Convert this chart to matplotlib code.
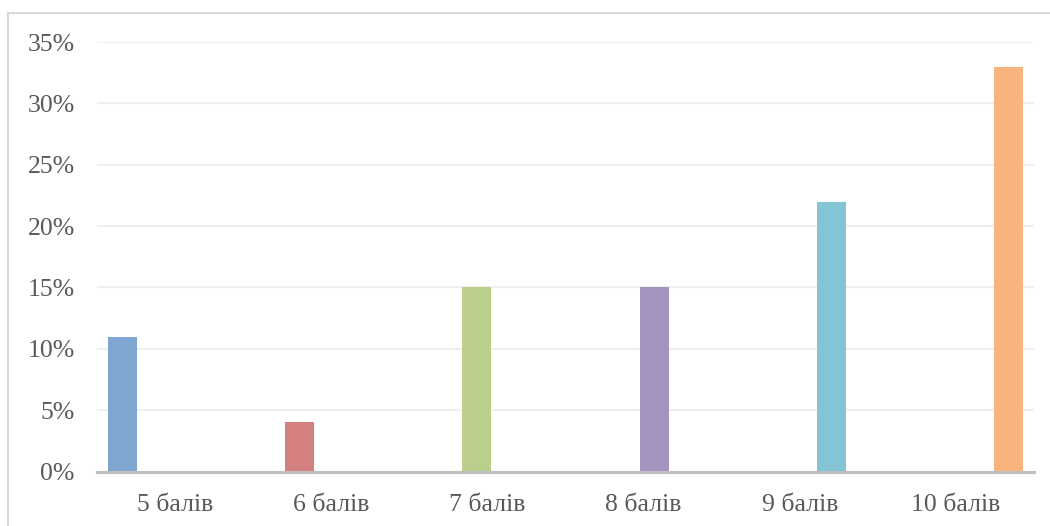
import matplotlib
matplotlib.use("Agg")
import matplotlib.pyplot as plt
import numpy as np
from matplotlib.patches import Rectangle

categories = ["5 балів", "6 балів", "7 балів", "8 балів", "9 балів", "10 балів"]
values = [11, 4, 15, 15, 22, 33]
colors = ["#7FA6D1", "#D48080", "#BBCF8C", "#A492BF", "#83C4D6", "#F8B47E"]
yticks = [0, 5, 10, 15, 20, 25, 30, 35]

W, H = 1050, 526
fig = plt.figure(figsize=(W / 100, H / 100), dpi=100)
plt.rcParams['font.family'] = ['Liberation Serif', 'DejaVu Serif']

# outer border
fig.patches.append(Rectangle((8 / W, -0.1), 1.2, 1 - 13 / H + 0.1, transform=fig.transFigure,
                             fill=False, edgecolor="#D9D9D9", linewidth=1.5))

left, right = 97 / W, 1034 / W
bottom, top = 1 - 471.5 / H, 1 - 42 / H
ax = fig.add_axes([left, bottom, right - left, top - bottom])

n = len(categories)
step = 0.1344
width = 0.1855
x = np.arange(n)
for i in range(n):
    pos = x[i] + (i - (n - 1) / 2) * step
    ax.bar(pos, values[i], width=width, color=colors[i], zorder=3)

ax.set_xlim(-0.5, n - 0.5)
ax.set_ylim(0, 35)
ax.set_yticks(yticks)
ax.set_yticklabels([f"{v}%" for v in yticks])
ax.set_xticks(x)
ax.set_xticklabels(categories)
ax.grid(axis="y", color="#EFEFEF", linewidth=1.5, zorder=0)
for s in ["top", "right", "left"]:
    ax.spines[s].set_visible(False)
ax.spines["bottom"].set_color("#BFBFBF")
ax.spines["bottom"].set_linewidth(2.2)
ax.spines["bottom"].set_zorder(4)
ax.tick_params(axis="both", length=0, labelsize=18.5, labelcolor="#595959")
ax.tick_params(axis="y", pad=16)
ax.tick_params(axis="x", pad=16)

fig.savefig("out.png", dpi=100)
